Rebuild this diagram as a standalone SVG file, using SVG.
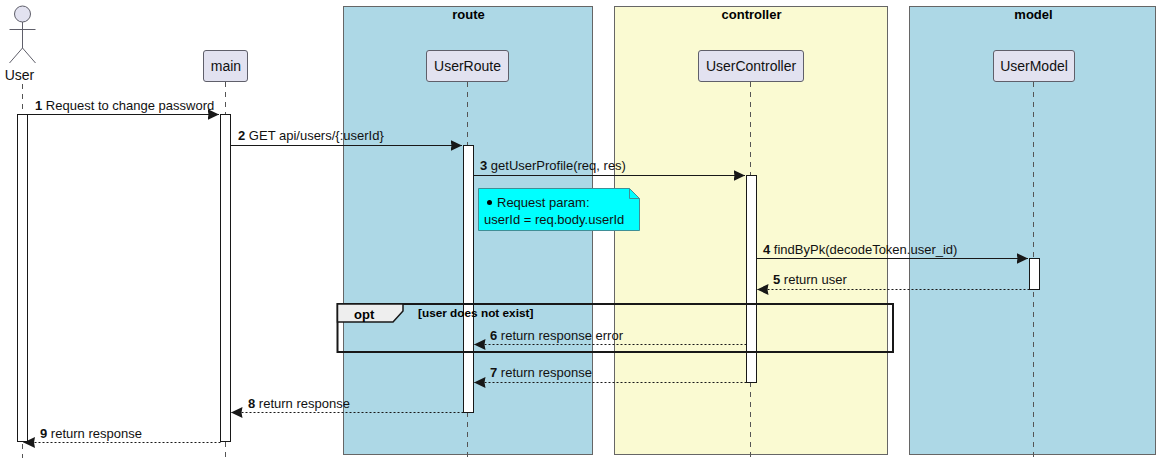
<svg xmlns="http://www.w3.org/2000/svg" width="1163" height="466" viewBox="0 0 1163 466">
<defs>
<marker id="arr" markerUnits="userSpaceOnUse" markerWidth="14" markerHeight="14" refX="11.5" refY="7" orient="auto"><polygon points="0,1.5 11.5,7 0,12.5 1,7" fill="#181818"/></marker>
</defs>
<style>
text{font-family:"Liberation Sans",Arial,sans-serif;fill:#000}
.box{stroke:#666;stroke-width:1}
.bt{font-size:13px;font-weight:bold;text-anchor:middle}
.life{stroke:#555;stroke-width:1;stroke-dasharray:5 5}
.part{fill:#E2E2F0;stroke:#5f5f6a;stroke-width:1}
.pt{font-size:14px;text-anchor:middle;fill:#111}
.act{fill:#fff;stroke:#181818;stroke-width:1}
.m{font-size:13px;fill:#111}
.n{font-weight:bold}
.sync{stroke:#181818;stroke-width:1;fill:none;marker-end:url(#arr)}
.ret{stroke:#181818;stroke-width:1;fill:none;stroke-dasharray:2 2;marker-end:url(#arr)}
</style>
<g id="box-route"><rect class="box" x="343.5" y="6.5" width="249" height="448" fill="#ADD8E6"/><text class="bt" x="468.5" y="19">route</text></g>
<g id="box-controller"><rect class="box" x="614.5" y="6.5" width="273" height="448" fill="#FAFAD2"/><text class="bt" x="751.5" y="19">controller</text></g>
<g id="box-model"><rect class="box" x="909.5" y="6.5" width="246" height="448" fill="#ADD8E6"/><text class="bt" x="1033.5" y="19">model</text></g>

<g id="lifelines">
<line class="life" x1="22.5" y1="84" x2="22.5" y2="458"/>
<line class="life" x1="225.5" y1="82" x2="225.5" y2="458"/>
<line class="life" x1="467.5" y1="82" x2="467.5" y2="458"/>
<line class="life" x1="750.5" y1="82" x2="750.5" y2="458"/>
<line class="life" x1="1033.5" y1="82" x2="1033.5" y2="458"/>
</g>

<g id="User">
<circle cx="22.5" cy="14" r="8" fill="#E2E2F0" stroke="#5f5f6a"/>
<path d="M22.5 22V48M9.5 29.5H35.5M22.5 48L9.5 63M22.5 48L35.5 63" fill="none" stroke="#5f5f6a"/>
<text class="pt" x="19.5" y="80">User</text>
</g>
<g id="main"><rect class="part" x="203.5" y="50.5" width="44" height="31" rx="2.5"/><text class="pt" x="226" y="71">main</text></g>
<g id="UserRoute"><rect class="part" x="426.5" y="50.5" width="82" height="31" rx="2.5"/><text class="pt" x="467.5" y="71">UserRoute</text></g>
<g id="UserController"><rect class="part" x="698.5" y="50.5" width="105" height="31" rx="2.5"/><text class="pt" x="751" y="71">UserController</text></g>
<g id="UserModel"><rect class="part" x="993.5" y="50.5" width="81" height="31" rx="2.5"/><text class="pt" x="1034" y="71">UserModel</text></g>

<g id="activations">
<rect class="act" x="17.5" y="114.5" width="10" height="327"/>
<rect class="act" x="220.5" y="114.5" width="10" height="327"/>
<rect class="act" x="463.5" y="145.5" width="10" height="267"/>
<rect class="act" x="746.5" y="175.5" width="10" height="207"/>
<rect class="act" x="1029.5" y="258.5" width="10" height="31"/>
</g>

<g id="connectors">
<line class="sync" x1="27.5" y1="114.5" x2="219" y2="114.5"/>
<line class="sync" x1="230.5" y1="145.5" x2="462" y2="145.5"/>
<line class="sync" x1="473.5" y1="175.5" x2="745" y2="175.5"/>
<line class="sync" x1="756.5" y1="258.5" x2="1028" y2="258.5"/>
<line class="ret" x1="1029.5" y1="289.5" x2="757" y2="289.5"/>
<line class="ret" x1="746.5" y1="344.5" x2="474" y2="344.5"/>
<line class="ret" x1="746.5" y1="382.5" x2="474" y2="382.5"/>
<line class="ret" x1="463.5" y1="412.5" x2="231" y2="412.5"/>
<line class="ret" x1="220.5" y1="442.5" x2="23.5" y2="442.5"/>
</g>

<g id="labels">
<text class="m" x="35" y="110"><tspan class="n">1</tspan> Request to change password</text>
<text class="m" x="238" y="140"><tspan class="n">2</tspan> GET api/users/{:userId}</text>
<text class="m" x="480" y="170"><tspan class="n">3</tspan> getUserProfile(req, res)</text>
<text class="m" x="763" y="254"><tspan class="n">4</tspan> findByPk(decodeToken.user_id)</text>
<text class="m" x="773" y="284"><tspan class="n">5</tspan> return user</text>
<text class="m" x="490" y="340"><tspan class="n">6</tspan> return response error</text>
<text class="m" x="490" y="377"><tspan class="n">7</tspan> return response</text>
<text class="m" x="248" y="408"><tspan class="n">8</tspan> return response</text>
<text class="m" x="40" y="438"><tspan class="n">9</tspan> return response</text>
</g>

<g id="note">
<path d="M478.5 188.5H629.5L639.5 198.5V230.5H478.5Z" fill="#00FFFF" stroke="#3f8f96"/>
<path d="M629.5 188.5V198.5H639.5" fill="none" stroke="#3f8f96"/>
<circle cx="489.5" cy="202.5" r="2.5" fill="#000"/>
<text class="m" x="497" y="207">Request param:</text>
<text class="m" x="484" y="224">userId = req.body.userId</text>
</g>

<g id="opt">
<rect x="337.5" y="304" width="555.5" height="48" fill="none" stroke="#181818" stroke-width="2"/>
<path d="M337.5 304H403V311L393 322H337.5Z" fill="#EEEEEE" stroke="#181818" stroke-width="1.5"/>
<text x="354" y="319" font-size="13" font-weight="bold">opt</text>
<text x="418" y="317" font-size="11.8" font-weight="bold">[user does not exist]</text>
</g>
</svg>
